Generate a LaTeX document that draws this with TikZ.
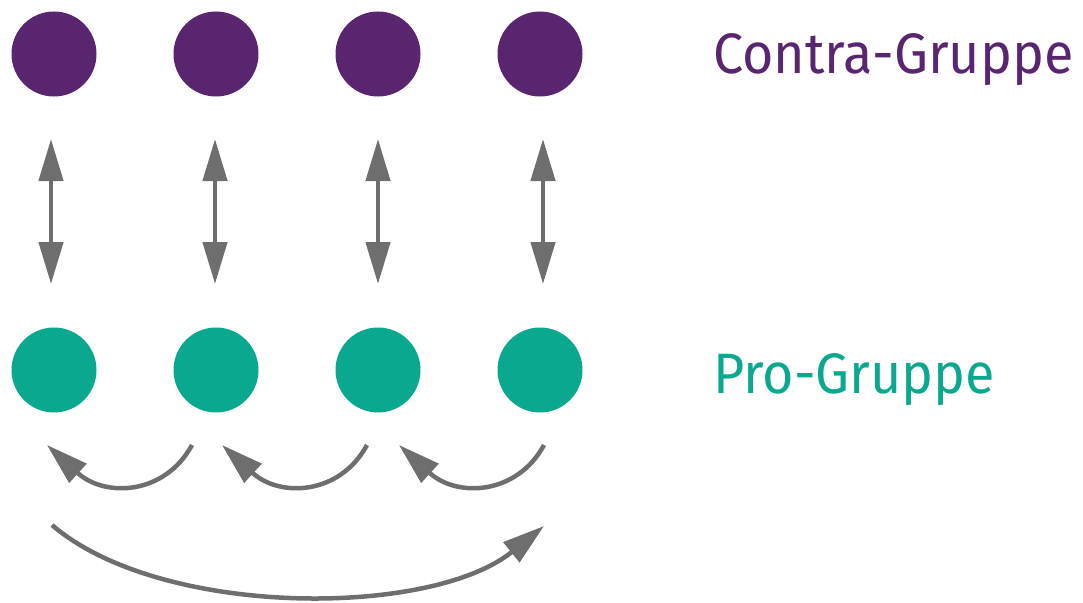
\documentclass[tikz,border=0pt]{standalone}
\usepackage{fontspec}
\setmainfont{Fira Sans}
\newfontfamily\lblfont[FakeStretch=0.945]{Fira Sans}
\usetikzlibrary{arrows.meta}
\definecolor{contra}{HTML}{5A256F}
\definecolor{pro}{HTML}{0AA98F}
\definecolor{arr}{HTML}{6E6E6E}
\tikzset{
  dot/.style={circle, minimum size=85pt, inner sep=0pt},
  contradot/.style={dot, fill=contra},
  prodot/.style={dot, fill=pro},
  conn/.style={draw=arr, line width=4.5pt, -{Triangle[length=42pt,width=25pt]}},
  dconn/.style={draw=arr, line width=4.5pt, {Triangle[length=42pt,width=24pt]}-{Triangle[length=42pt,width=24pt]}},
  lbl/.style={anchor=base west, inner sep=0pt, font=\lblfont\fontsize{57}{60}\selectfont}
}
\begin{document}
\begin{tikzpicture}[x=1pt,y=-1pt]
\useasboundingbox (0,0) rectangle (1083,602);
% circles
\node[contradot] (c1) at (54,54) {};
\node[contradot] (c2) at (216,54) {};
\node[contradot] (c3) at (378,54) {};
\node[contradot] (c4) at (540,54) {};
\node[prodot] (p1) at (54,370) {};
\node[prodot] (p2) at (216,370) {};
\node[prodot] (p3) at (378,370) {};
\node[prodot] (p4) at (540,370) {};
% labels
\node[lbl, text=contra] (lc) at (713,74) {Contra-Gruppe};
\node[lbl, text=pro] (lp) at (713,393) {Pro-Gruppe};
% vertical double arrows
\coordinate (u1) at (51,139);  \coordinate (d1) at (51,284);
\coordinate (u2) at (215,139); \coordinate (d2) at (215,284);
\coordinate (u3) at (378,139); \coordinate (d3) at (378,284);
\coordinate (u4) at (543,139); \coordinate (d4) at (543,284);
\draw[dconn] (u1) -- (d1);
\draw[dconn] (u2) -- (d2);
\draw[dconn] (u3) -- (d3);
\draw[dconn] (u4) -- (d4);
% small arcs
\coordinate (s1) at (192,445); \coordinate (t1) at (47,445);
\coordinate (s2) at (367,445); \coordinate (t2) at (222,445);
\coordinate (s3) at (544,445); \coordinate (t3) at (399,445);
\draw[conn] (s1) .. controls +(-27,50) and +(58,53) .. (t1);
\draw[conn] (s2) .. controls +(-27,50) and +(58,53) .. (t2);
\draw[conn] (s3) .. controls +(-27,50) and +(58,53) .. (t3);
% big arc
\coordinate (bs) at (52,525); \coordinate (bt) at (544,526);
\draw[conn] (bs) .. controls (160,618) and (430,618) .. (bt);
\end{tikzpicture}
\end{document}
